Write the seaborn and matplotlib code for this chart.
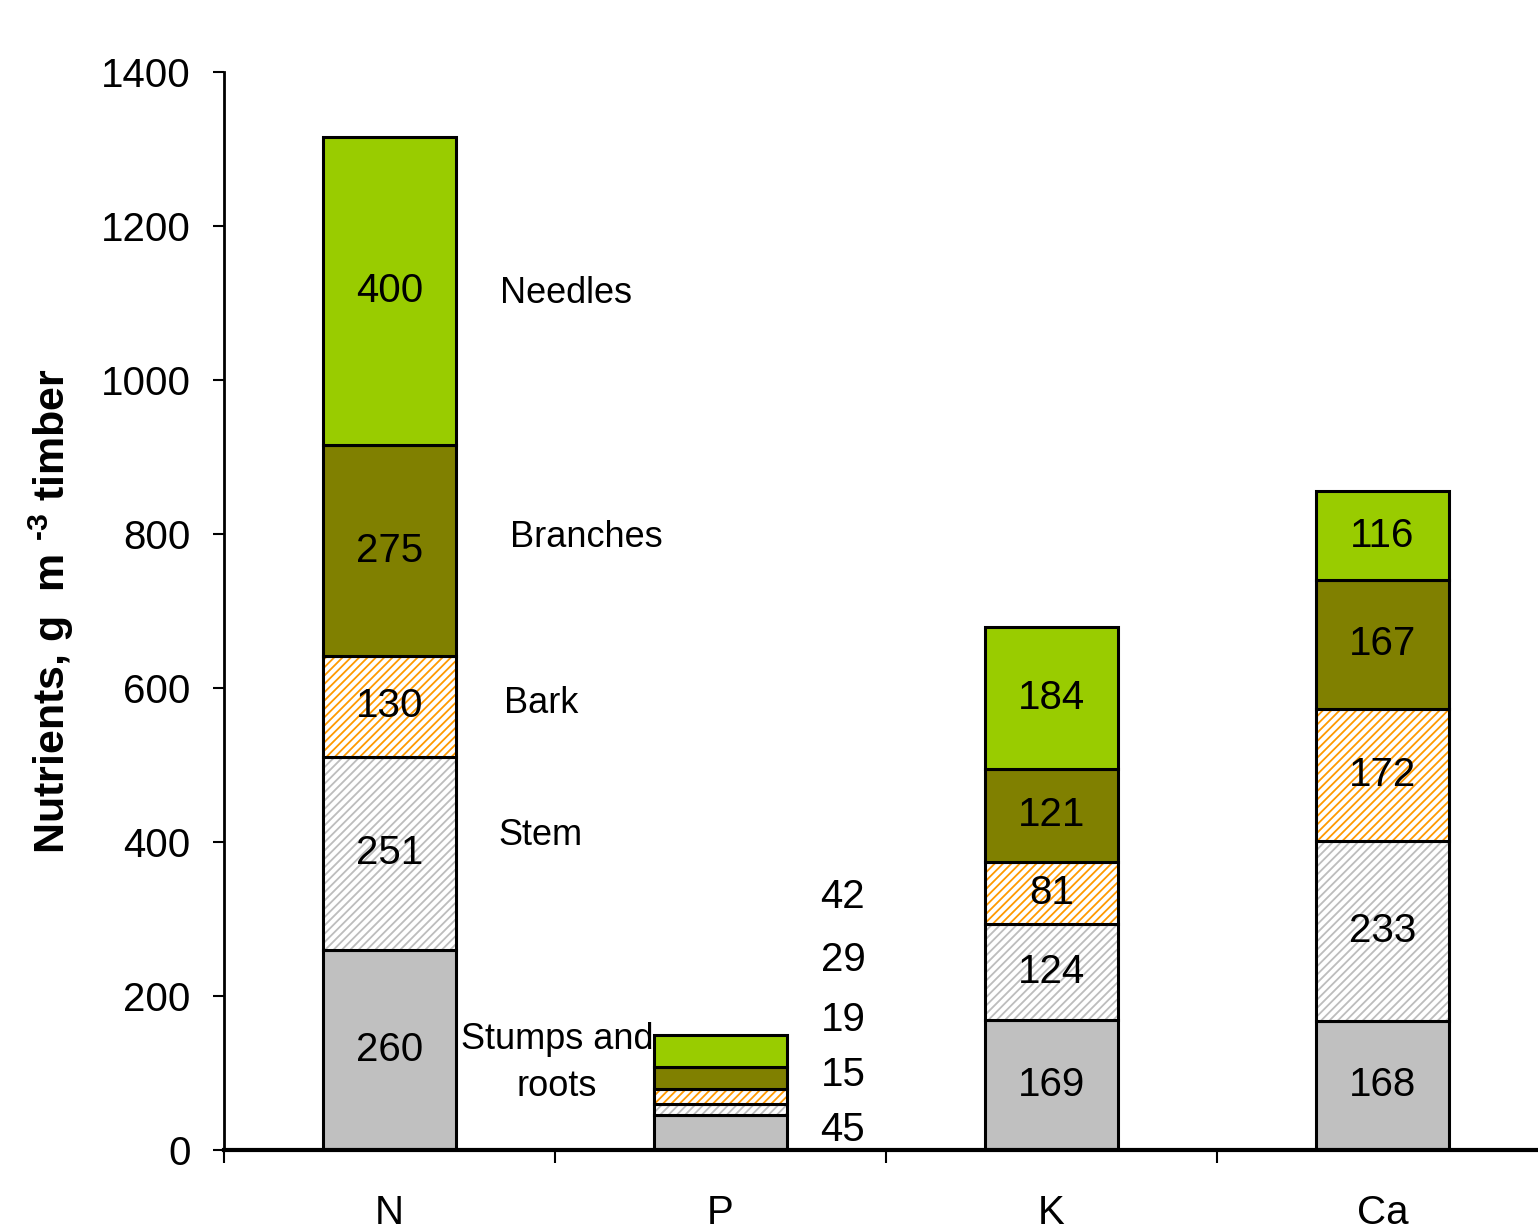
import numpy as np
import pandas as pd
import seaborn as sns
import matplotlib.pyplot as plt

# Nutrient amounts per tree component (g per m3 timber)
nutrients = ["N", "P", "K", "Ca"]
stumps_roots = [260, 45, 169, 168]
stem = [251, 15, 124, 233]
bark = [130, 19, 81, 172]
branches = [275, 29, 121, 167]
needles = [400, 42, 184, 116]

component_names = ["Stumps and\nroots", "Stem", "Bark", "Branches", "Needles"]

sns.set_theme(style="ticks")
plt.rcParams["font.family"] = ["Liberation Sans", "DejaVu Sans"]
plt.rcParams["mathtext.fontset"] = "custom"
plt.rcParams["mathtext.rm"] = "Liberation Sans:bold"
plt.rcParams["mathtext.bf"] = "Liberation Sans:bold"
plt.rcParams["hatch.linewidth"] = 1.3
for key in ["text.color", "axes.labelcolor", "xtick.color", "ytick.color", "axes.edgecolor"]:
    plt.rcParams[key] = "black"

fig = plt.figure(figsize=(15.38, 12.25), dpi=100)
ax = fig.add_axes([224 / 1538, 75 / 1225, 1 - 224 / 1538, 1078 / 1225])

# (values, fill colour, hatch, hatch colour)
layers = [
    (stumps_roots, "#C0C0C0", None, None),
    (stem, "white", "////", "#BDBDBD"),
    (bark, "white", "////", "#FF9900"),
    (branches, "#808000", None, None),
    (needles, "#99CC00", None, None),
]

bottom = np.zeros(len(nutrients))
for vals, color, hatch, hcol in layers:
    vals = np.asarray(vals, dtype=float)
    if hatch:
        sns.barplot(x=nutrients, y=vals, bottom=bottom, color=color, saturation=1,
                    width=0.4, hatch=hatch, edgecolor=hcol, linewidth=0,
                    errorbar=None, ax=ax)
    else:
        sns.barplot(x=nutrients, y=vals, bottom=bottom, color=color, saturation=1,
                    width=0.4, linewidth=0, errorbar=None, ax=ax)
    fill_bars = ax.containers[-1]
    # black outline for each segment
    sns.barplot(x=nutrients, y=vals, bottom=bottom, fill=False, color="black",
                facecolor="none", saturation=1, width=0.4, linewidth=2.2,
                errorbar=None, ax=ax)
    labels = ["" if n == "P" else f"{int(v)}" for n, v in zip(nutrients, vals)]
    ax.bar_label(fill_bars, labels=labels, label_type="center", fontsize=29)
    bottom += vals

# values of the small P bar, listed beside it (top to bottom)
p_idx = nutrients.index("P")
p_values = [needles[p_idx], branches[p_idx], bark[p_idx], stem[p_idx], stumps_roots[p_idx]]
p_label_y = [328, 247, 169, 97, 26]
for v, y in zip(p_values, p_label_y):
    ax.text(1.37, y, f"{v}", ha="center", va="center", fontsize=29)

# component names beside the N bar
name_pos = [(0.506, 113, "center"), (0.328, 408, "left"), (0.346, 580, "left"),
            (0.364, 796, "left"), (0.334, 1112, "left")]
for name, (x, y, ha) in zip(component_names, name_pos):
    ax.text(x, y, name, ha=ha, va="center", fontsize=26, linespacing=1.45)

ax.set_xlim(-0.5, 3.47)
ax.set_ylim(0, 1400)
ax.set_yticks(np.arange(0, 1401, 200))
ax.set_xticks(range(len(nutrients)))
ax.set_xticklabels(nutrients)
ax.set_xticks([-0.5, 0.5, 1.5, 2.5], minor=True)
ax.tick_params(axis="x", which="major", length=0, pad=32, labelsize=29, bottom=True)
ax.tick_params(axis="x", which="minor", length=9, width=1.5, direction="out", bottom=True)
ax.tick_params(axis="y", length=8, width=1.5, direction="out", pad=16, labelsize=29, left=True)

sns.despine(ax=ax)
ax.spines["left"].set_linewidth(2)
ax.spines["bottom"].set_linewidth(3)

ax.set_ylabel("Nutrients, g  m $^{\u2010 3}$ timber", fontsize=31, fontweight="bold")
ax.yaxis.set_label_coords(-0.113, 0.5)
ax.set_xlabel("")

fig.savefig("out.png", dpi=100)
